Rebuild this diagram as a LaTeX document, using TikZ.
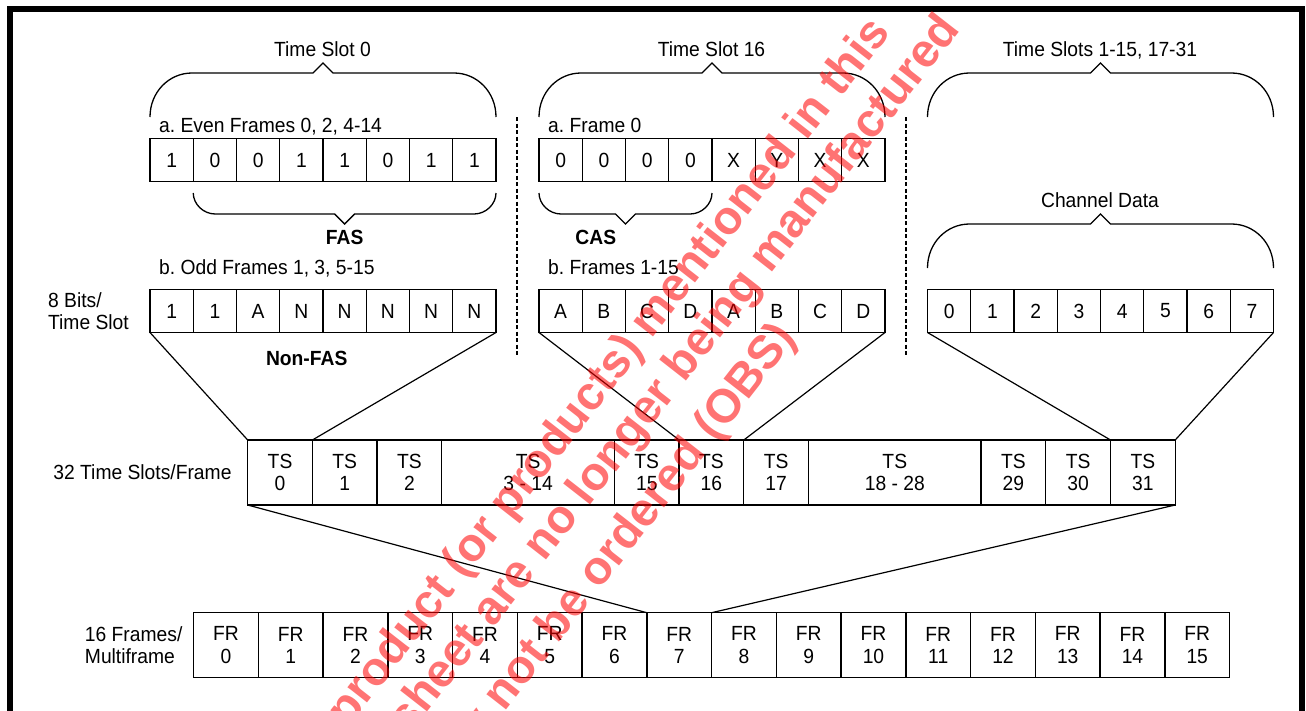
\documentclass[tikz,border=0pt]{standalone}
\usepackage{fontspec}
\setmainfont[FakeStretch=0.94]{Liberation Sans}
\newfontfamily\stampfont{Liberation Sans}
\usetikzlibrary{positioning}
\frenchspacing

\begin{document}
\begin{tikzpicture}[x=1pt, y=-1pt,
    every node/.style={font=\fontsize{20.5}{22.5}\selectfont, inner sep=0pt},
    bitcell/.style={draw, line width=1.3pt, minimum width=43.25pt, minimum height=43pt, outer sep=0pt},
    slotcell/.style={draw, line width=1.3pt, minimum height=65pt, align=center, outer sep=0pt},
    lbl/.style={align=left},
    boldlbl/.style={font=\fontsize{20.5}{22.5}\selectfont\bfseries},
    brace/.style={line width=1.3pt},
    link/.style={line width=1.2pt},
    sepline/.style={line width=1.2pt, dash pattern=on 4pt off 2.5pt},
    stamp/.style={rotate=52, anchor=east, text=red, text opacity=0.55,
      font=\stampfont\bfseries\fontsize{47}{52}\selectfont}]

    \useasboundingbox (0,0) rectangle (1306,710);

    % 1. Khung ngoai
    \draw[line width=6pt] (10,720) -- (10,9) -- (1302,9) -- (1302,720);

    % 2. Cac hang bit (8 bit / khe thoi gian)
    \foreach \v [count=\i] in {1,0,0,1,1,0,1,1}
      \node[bitcell] (ev-\i) at ({150+(\i-0.5)*43.25},160) {\v};
    \foreach \v [count=\i] in {1,1,A,N,N,N,N,N}
      \node[bitcell] (odd-\i) at ({150+(\i-0.5)*43.25},311) {\v};
    \foreach \v [count=\i] in {0,0,0,0,X,Y,X,X}
      \node[bitcell] (fz-\i) at ({539+(\i-0.5)*43.25},160) {\v};
    \foreach \v [count=\i] in {A,B,C,D,A,B,C,D}
      \node[bitcell] (fo-\i) at ({539+(\i-0.5)*43.25},311) {\v};
    \foreach \v [count=\i] in {0,...,7}
      \node[bitcell] (ch-\i) at ({927.5+(\i-0.5)*43.25},311) {\v};

    % 3. Hang 32 khe thoi gian / khung
    \foreach \n/\l/\r/\t in {ts0/247.7/312.4/0, ts1/312.4/377.1/1, ts2/377.1/441.8/2,
        ts3/441.8/614.4/3 - 14, ts15/614.4/679.1/15, ts16/679.1/743.8/16,
        ts17/743.8/808.5/17, ts18/808.5/981.1/18 - 28, ts29/981.1/1045.8/29,
        ts30/1045.8/1110.5/30, ts31/1110.5/1175.2/31}
      \node[slotcell, minimum width={(\r-\l)*1pt}] (\n) at ({(\l+\r)/2},472.5) {TS\\\t};

    % 4. Hang 16 khung / da khung
    \foreach \k in {0,...,15}
      \node[slotcell, minimum width=64.75pt] (fr\k) at ({193.6+(\k+0.5)*64.75},645.2) {FR\\\k};

    % 5. Ngoac tren va ngoac duoi
    \foreach \l/\r/\y in {150/496/73, 539/885/73, 927.5/1273.5/73, 927.5/1273.5/224}
      \draw[brace] (\l,\y+44) .. controls (\l,\y+19) and (\l+19,\y) .. (\l+42,\y)
        -- ({(\l+\r)/2-10},\y) -- ({(\l+\r)/2},\y-10) -- ({(\l+\r)/2+10},\y)
        -- (\r-42,\y) .. controls (\r-19,\y) and (\r,\y+19) .. (\r,\y+44);
    \foreach \l/\r in {193.25/496, 539/712}
      \draw[brace] (\l,193) .. controls (\l,204) and (\l+10,214) .. (\l+22,214)
        -- ({(\l+\r)/2-10},214) -- ({(\l+\r)/2},224) -- ({(\l+\r)/2+10},214)
        -- (\r-22,214) .. controls (\r-10,214) and (\r,204) .. (\r,193);

    % 6. Duong phan cach net dut
    \draw[sepline] (517,117) -- (517,355);
    \draw[sepline] (906,117) -- (906,355);

    % 7. Nhan
    \node[anchor=base] (t0)  at (322.5,56.5) {Time Slot 0};
    \node[anchor=base] (t16) at (711.5,56.5) {Time Slot 16};
    \node[anchor=base] (tch) at (1100,56.5) {Time Slots 1-15, 17-31};
    \node[anchor=base] (chd) at (1100,207) {Channel Data};
    \node[anchor=base west] (eva) at ([xshift=9pt, yshift=6.5pt]ev-1.north west) {a. Even Frames 0, 2, 4-14};
    \node[anchor=base west] (oddb) at ([xshift=9pt, yshift=15pt]odd-1.north west) {b. Odd Frames 1, 3, 5-15};
    \node[anchor=base west] (fza) at ([xshift=9pt, yshift=6.5pt]fz-1.north west) {a. Frame 0};
    \node[anchor=base west] (fob) at ([xshift=9pt, yshift=15pt]fo-1.north west) {b. Frames 1-15};
    \node[boldlbl, anchor=base] (fas) at (344.7,244) {FAS};
    \node[boldlbl, anchor=base] (cas) at (595.8,244) {CAS};
    \node[boldlbl, anchor=base] (nonfas) at (306.7,365) {Non-FAS};
    \node[lbl, left=21pt of odd-1] (bits) {8 Bits/\\Time Slot};
    \node[lbl, left=16pt of ts0] (tslbl) {32 Time Slots/Frame};
    \node[lbl, left=11pt of fr0] (frlbl) {16 Frames/\\Multiframe};

    % 8. Duong noi
    \draw[link] (odd-1.south west) -- (ts0.north west);
    \draw[link] (odd-8.south east) -- (ts0.north east);
    \draw[link] (fo-1.south west) -- (ts16.north west);
    \draw[link] (fo-8.south east) -- (ts16.north east);
    \draw[link] (ch-1.south west) -- (ts31.north west);
    \draw[link] (ch-8.south east) -- (ts31.north east);
    \draw[link] (ts0.south west) -- (fr7.north west);
    \draw[link] (ts31.south east) -- (fr7.north east);

    % 9. Dau mo
    \begin{scope}
      \clip (0,0) rectangle (1306,710);
      \node[stamp] (wm1) at (882,25) {product (or products) mentioned in this};
      \node[stamp] (wm2) at (952,22) {sheet are no longer being manufactured};
      \node[stamp] (wm3) at (788,330) {may not be ordered (OBS)};
    \end{scope}

\end{tikzpicture}
\end{document}
